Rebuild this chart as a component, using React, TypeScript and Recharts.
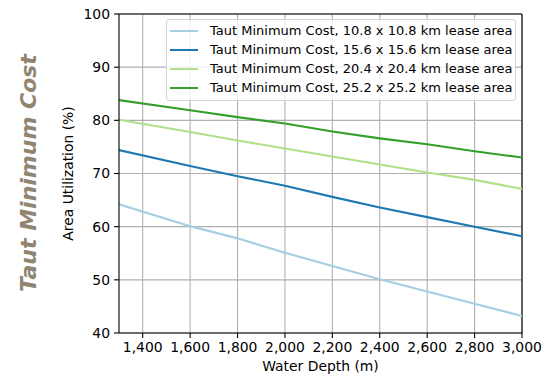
import React from 'react';
import {
    LineChart, Line, XAxis, YAxis, CartesianGrid, Legend, ReferenceLine
} from 'recharts';

// water depth samples (m)
const depths = [1300, 1600, 1800, 2000, 2200, 2400, 2600, 2800, 3000];

// area utilization (%) per lease area size
const lease108 = [64.2, 60.1, 57.8, 55.1, 52.6, 50.1, 47.8, 45.5, 43.2];
const lease156 = [74.4, 71.4, 69.5, 67.7, 65.6, 63.6, 61.8, 60.0, 58.2];
const lease204 = [80.1, 77.8, 76.2, 74.7, 73.2, 71.7, 70.2, 68.8, 67.1];
const lease252 = [83.8, 81.9, 80.6, 79.4, 77.9, 76.6, 75.5, 74.2, 73.0];

const seriesNames = [
    'Taut Minimum Cost, 10.8 x 10.8 km lease area',
    'Taut Minimum Cost, 15.6 x 15.6 km lease area',
    'Taut Minimum Cost, 20.4 x 20.4 km lease area',
    'Taut Minimum Cost, 25.2 x 25.2 km lease area',
];
const seriesColors = ['#a6cee3', '#1f78b4', '#b2df8a', '#33a02c'];
const seriesValues = [lease108, lease156, lease204, lease252];

const xTicks = [1400, 1600, 1800, 2000, 2200, 2400, 2600, 2800, 3000];
const yTicks = [40, 50, 60, 70, 80, 90, 100];

const data = depths.map((d, i) => {
    const row: Record<string, number> = { depth: d };
    seriesValues.forEach((vals, k) => { row[`s${k}`] = vals[i]; });
    return row;
});

const FONT = '"DejaVu Sans", sans-serif';
const tickStyle = { fontSize: 13.9, fill: '#000', fontFamily: FONT };

function LegendBox() {
    return (
        <div style={{
            width: 350, boxSizing: 'border-box', padding: '1px 0 3px 0',
            border: '1px solid #d5d5d5', borderRadius: 3,
            background: 'rgba(255,255,255,0.8)', fontFamily: FONT, fontSize: 13,
        }}>
            {seriesNames.map((name, i) => (
                <div key={name} style={{ display: 'flex', alignItems: 'center', height: 19 }}>
                    <div style={{ flex: '0 0 28px', height: 2, background: seriesColors[i], marginLeft: 3, marginRight: 12 }} />
                    <span style={{ color: '#000', whiteSpace: 'nowrap' }}>{name}</span>
                </div>
            ))}
        </div>
    );
}

export default function App() {
    return (
        <div style={{ position: 'absolute', left: 0, top: 0, width: 546, height: 376, background: '#fff' }}>
            <LineChart width={546} height={376} data={data} margin={{ top: 14, right: 24, bottom: 0, left: 0 }}>
                <CartesianGrid stroke="#b0b0b0" strokeWidth={1.1} horizontalValues={yTicks} verticalValues={xTicks} />
                <XAxis
                    dataKey="depth" type="number" domain={[1300, 3000]} ticks={xTicks}
                    tickFormatter={(v) => Number(v).toLocaleString('en-US')}
                    height={43} tickSize={5} tickMargin={4}
                    stroke="#000" strokeWidth={1.1} tick={tickStyle} allowDataOverflow
                    label={{ value: 'Water Depth (m)', position: 'insideBottom', offset: 5, style: { ...tickStyle } }}
                />
                <YAxis
                    type="number" domain={[40, 100]} ticks={yTicks} width={119}
                    tickSize={5} tickMargin={4} stroke="#000" strokeWidth={1.1} tick={tickStyle}
                    label={{ value: 'Area Utilization (%)', angle: -90, position: 'center', dx: 9, style: { ...tickStyle, textAnchor: 'middle' } }}
                />
                <ReferenceLine y={100} stroke="#000" strokeWidth={1.1} />
                <ReferenceLine x={3000} stroke="#000" strokeWidth={1.1} />
                {seriesNames.map((name, i) => (
                    <Line key={name} dataKey={`s${i}`} name={name} stroke={seriesColors[i]} strokeWidth={2.1}
                        dot={false} isAnimationActive={false} type="linear" />
                ))}
                <Legend layout="vertical" align="center" verticalAlign="middle"
                    wrapperStyle={{ left: 166, top: 19, width: 350 }} content={() => <LegendBox />} />
            </LineChart>
            <svg width={546} height={376} style={{ position: 'absolute', left: 0, top: 0, pointerEvents: 'none' }}>
                <text x={0} y={0} transform="translate(36,173) rotate(-90)" textAnchor="middle"
                    fontFamily={FONT} fontSize={22} fontWeight="bold" fontStyle="italic" fill="#8f8571">
                    Taut Minimum Cost
                </text>
            </svg>
        </div>
    );
}
